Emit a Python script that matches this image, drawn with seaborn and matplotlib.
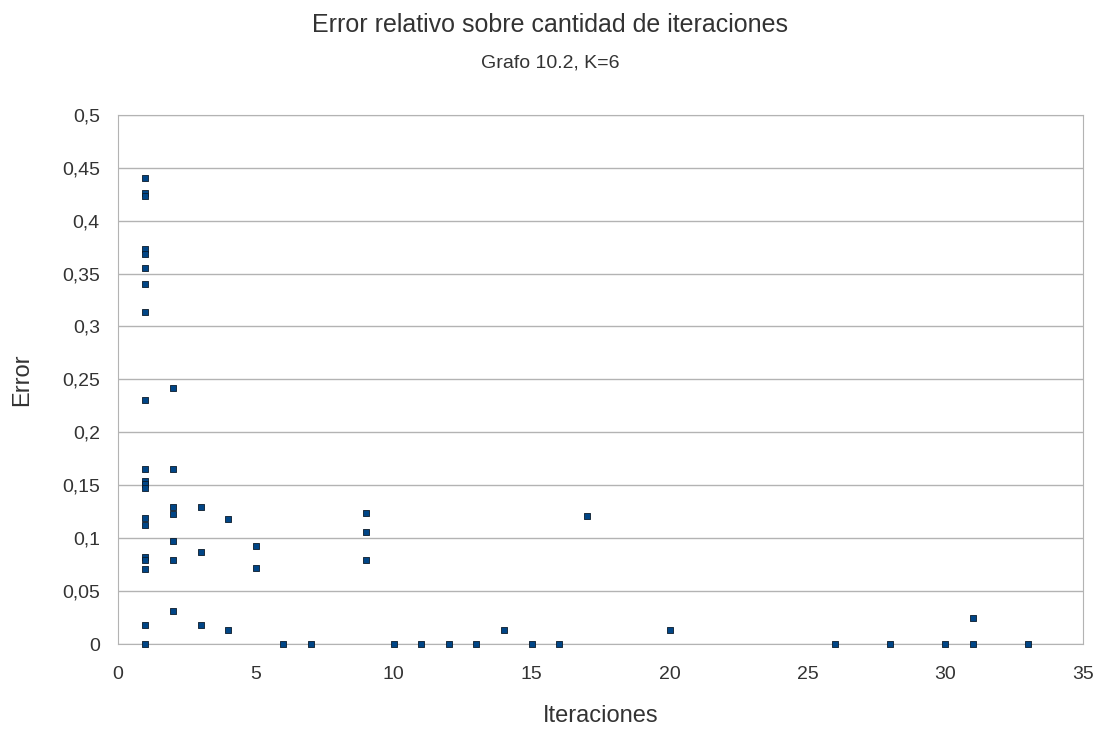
import numpy as np
import pandas as pd
import matplotlib
matplotlib.use("Agg")
import matplotlib.pyplot as plt
import seaborn as sns
from matplotlib.ticker import FuncFormatter, MultipleLocator

# iteraciones y error relativo
iteraciones = [1] * 20 + [2] * 7 + [3] * 3 + [4] * 2 + [5] * 2 + [6, 7] + [9] * 3 + \
    [10, 11, 12, 13, 14, 15, 16, 17, 20, 26, 28, 30, 31, 31, 33]
error = [
    0.440, 0.426, 0.423, 0.373, 0.368, 0.355, 0.340, 0.314, 0.231, 0.165,
    0.154, 0.151, 0.147, 0.119, 0.112, 0.082, 0.079, 0.071, 0.018, 0.0,
    0.242, 0.165, 0.129, 0.123, 0.097, 0.079, 0.031,
    0.129, 0.087, 0.018,
    0.118, 0.013,
    0.093, 0.072,
    0.0, 0.0,
    0.124, 0.106, 0.079,
    0.0, 0.0, 0.0, 0.0, 0.013, 0.0, 0.0, 0.121, 0.013, 0.0, 0.0, 0.0, 0.025, 0.0, 0.0,
]

df = pd.DataFrame({"Iteraciones": iteraciones, "Error": error})

sns.set_style("white")
plt.rcParams["font.family"] = ["Liberation Sans", "DejaVu Sans"]
gris = "#b3b3b3"
texto = "#333333"

fig = plt.figure(figsize=(11.01, 7.31), dpi=100)
ax = fig.add_axes([0.107, 0.119, 0.877, 0.724])

sns.scatterplot(data=df, x="Iteraciones", y="Error", marker="s", s=14,
                color="#004586", edgecolor="#0a1a2a", linewidth=0.6, ax=ax,
                zorder=3, clip_on=False)

ax.set_xlim(0, 35)
ax.set_ylim(0, 0.5)
ax.xaxis.set_major_locator(MultipleLocator(5))
ax.yaxis.set_major_locator(MultipleLocator(0.05))
ax.yaxis.set_major_formatter(FuncFormatter(
    lambda v, p: f"{v:.2f}".rstrip("0").rstrip(".").replace(".", ",") if v else "0"))

ax.grid(axis="y", color=gris, linewidth=1)
for s in ax.spines.values():
    s.set_color(gris)
ax.tick_params(axis="both", length=7, color=gris, labelsize=14, labelcolor=texto)
ax.tick_params(axis="x", pad=9)
ax.tick_params(axis="y", pad=6)

ax.set_xlabel("Iteraciones", fontsize=17, color=texto)
ax.set_ylabel("Error", fontsize=17, color=texto)
ax.xaxis.set_label_coords(0.5, -0.115)
ax.yaxis.set_label_coords(-0.088, 0.5)

fig.text(0.5, 0.966, "Error relativo sobre cantidad de iteraciones", ha="center", va="center",
         fontsize=18, color=texto)
fig.text(0.5, 0.914, "Grafo 10.2, K=6", ha="center", va="center", fontsize=14, color=texto)

fig.savefig("out.png", dpi=100)
